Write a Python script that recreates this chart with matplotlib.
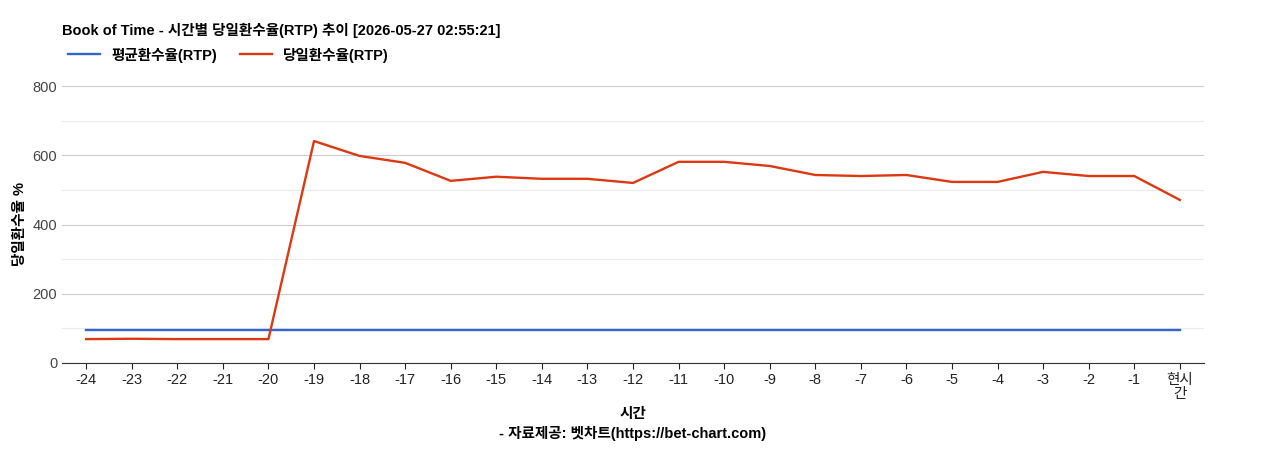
import matplotlib
matplotlib.use("Agg")
import matplotlib.pyplot as plt

plt.rcParams['font.family'] = ['Liberation Sans', 'Noto Sans CJK KR', 'DejaVu Sans']

labels = [str(i) for i in range(-24, 0)] + ["현시\n간"]
avg_rtp = [95] * 25
day_rtp = [69, 70, 69, 69, 69, 641, 598, 578, 526, 538, 532, 532, 520, 581, 581, 569, 543, 540, 543, 523, 523, 552, 540, 540, 471]

fig = plt.figure(figsize=(12.68, 4.5), dpi=100)
ax = fig.add_axes([62/1268, 1-363/450, (1204-62)/1268, (363-86)/450])
x = range(len(labels))
ax.plot(x, avg_rtp, color='#3366cc', lw=1.7, label='평균환수율(RTP)')
ax.plot(x, day_rtp, color='#dc3912', lw=1.7, label='당일환수율(RTP)')
ax.set_xlim(-0.53, len(labels) - 0.47)
ax.set_ylim(0, 800)
ax.set_yticks([0, 200, 400, 600, 800])
ax.set_yticks([100, 300, 500, 700], minor=True)
ax.grid(axis='y', which='major', color='#cccccc', lw=0.8)
ax.grid(axis='y', which='minor', color='#ebebeb', lw=0.8)
ax.tick_params(axis='y', which='both', length=0, labelsize=10.5, colors='#444444')
ax.tick_params(axis='x', length=4, labelsize=10.5, colors='#222222')
ax.set_xticks(list(x))
ax.set_xticklabels(labels, linespacing=1.0)
ax.set_axisbelow(True)
for s in ['top', 'right', 'left']:
    ax.spines[s].set_visible(False)
ax.spines['bottom'].set_color('#333333')
ax.set_ylabel('당일환수율 %', fontsize=10.5, fontweight='bold')
ax.set_xlabel('시간\n- 자료제공: 벳차트(https://bet-chart.com)', fontsize=10.5, fontweight='bold', linespacing=1.4)
fig.text(62/1268, 1-30/450, 'Book of Time - 시간별 당일환수율(RTP) 추이 [2026-05-27 02:55:21]',
         fontsize=10.5, fontweight='bold', va='center')
fig.legend(loc='center left', bbox_to_anchor=(55/1268, 1-55/450), ncol=2, frameon=False,
           prop={'size': 10.5, 'weight': 'bold'}, handlelength=2.2, columnspacing=1.5)
fig.savefig('out.png')
